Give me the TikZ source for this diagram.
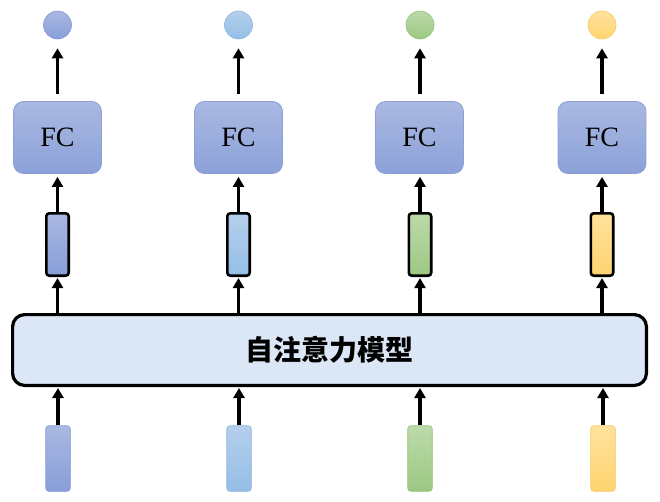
\documentclass[tikz,border=0pt]{standalone}
\usepackage{fontspec}
\setmainfont{Liberation Serif}
\newfontfamily\cjk{Noto Sans CJK SC}
\usetikzlibrary{arrows.meta}

\definecolor{fctop}{RGB}{170,185,226}
\definecolor{fcbot}{RGB}{139,161,217}
\definecolor{fcline}{RGB}{140,160,214}
\definecolor{atop}{RGB}{170,184,226}
\definecolor{abot}{RGB}{136,158,216}
\definecolor{aline}{RGB}{130,152,210}
\definecolor{btop}{RGB}{180,207,236}
\definecolor{bbot}{RGB}{150,190,230}
\definecolor{bline}{RGB}{140,180,224}
\definecolor{ctop}{RGB}{188,218,170}
\definecolor{cbot}{RGB}{156,200,130}
\definecolor{cline}{RGB}{146,192,120}
\definecolor{dtop}{RGB}{255,226,156}
\definecolor{dbot}{RGB}{255,212,112}
\definecolor{dline}{RGB}{246,200,96}
\definecolor{attfill}{RGB}{219,231,246}

\tikzset{
  fcbox/.style={draw=fcline, line width=0.8pt, rounded corners=10pt,
    minimum width=88pt, minimum height=72pt, inner sep=0pt,
    top color=fctop, bottom color=fcbot, font=\fontsize{28}{28}\selectfont},
  outdot/.style={circle, draw=#1line, line width=0.6pt, minimum size=28pt,
    inner sep=0pt, top color=#1top, bottom color=#1bot},
  featbox/.style={draw=black, line width=2.6pt, rounded corners=3pt,
    minimum width=22.4pt, minimum height=62.4pt, inner sep=0pt,
    top color=#1top, bottom color=#1bot},
  inbox/.style={draw=#1line, line width=0.6pt, rounded corners=3pt,
    minimum width=24.5pt, minimum height=65.5pt, inner sep=0pt,
    top color=#1top, bottom color=#1bot},
  attbox/.style={draw=black, line width=3.2pt, rounded corners=12pt,
    minimum width=633.8pt, minimum height=70.8pt, inner sep=0pt,
    fill=attfill, font=\cjk\bfseries\fontsize{28}{28}\selectfont},
  flow/.style={-{Triangle[length=10pt,width=11pt]}, line width=3.2pt}
}

\begin{document}
\begin{tikzpicture}[x=1pt, y=-1pt]
 \useasboundingbox (0,0) rectangle (660,501);

 \draw (329.5, 350) node[attbox] (att) {\raisebox{-2pt}{自注意力模型}};

 \draw (58, 458.5) node[inbox=a] (in1) {};
 \draw (239, 458.5) node[inbox=b] (in2) {};
 \draw (420, 458.5) node[inbox=c] (in3) {};
 \draw (603, 458.5) node[inbox=d] (in4) {};

 \draw (57.5, 244.5) node[featbox=a] (h1) {};
 \draw (238.5, 244.5) node[featbox=b] (h2) {};
 \draw (420, 244.5) node[featbox=c] (h3) {};
 \draw (602, 244.5) node[featbox=d] (h4) {};

 \draw (57.5, 137.5) node[fcbox] (fc1) {FC};
 \draw (238.5, 137.5) node[fcbox] (fc2) {FC};
 \draw (419.5, 137.5) node[fcbox] (fc3) {FC};
 \draw (602, 137.5) node[fcbox] (fc4) {FC};

 \draw (57.5, 25) node[outdot=a] (y1) {};
 \draw (238.5, 25) node[outdot=b] (y2) {};
 \draw (420, 25) node[outdot=c] (y3) {};
 \draw (602, 25) node[outdot=d] (y4) {};

 \draw[flow, shorten >=1pt] (in1) -- (in1 |- att.south);
 \draw[flow, shorten >=1pt] (in2) -- (in2 |- att.south);
 \draw[flow, shorten >=1pt] (in3) -- (in3 |- att.south);
 \draw[flow, shorten >=1pt] (in4) -- (in4 |- att.south);

 \draw[flow, shorten >=1pt] (att.north -| h1) -- (h1);
 \draw[flow, shorten >=1pt] (att.north -| h2) -- (h2);
 \draw[flow, shorten >=1pt] (att.north -| h3) -- (h3);
 \draw[flow, shorten >=1pt] (att.north -| h4) -- (h4);

 \draw[flow, shorten >=3pt] (h1) -- (h1 |- fc1.south);
 \draw[flow, shorten >=3pt] (h2) -- (h2 |- fc2.south);
 \draw[flow, shorten >=3pt] (h3) -- (h3 |- fc3.south);
 \draw[flow, shorten >=3pt] (h4) -- (h4 |- fc4.south);

 \draw[flow, shorten <=7pt, shorten >=9pt] (fc1.north -| y1) -- (y1);
 \draw[flow, shorten <=7pt, shorten >=9pt] (fc2.north -| y2) -- (y2);
 \draw[flow, shorten <=7pt, shorten >=9pt] (fc3.north -| y3) -- (y3);
 \draw[flow, shorten <=7pt, shorten >=9pt] (fc4.north -| y4) -- (y4);
\end{tikzpicture}
\end{document}
